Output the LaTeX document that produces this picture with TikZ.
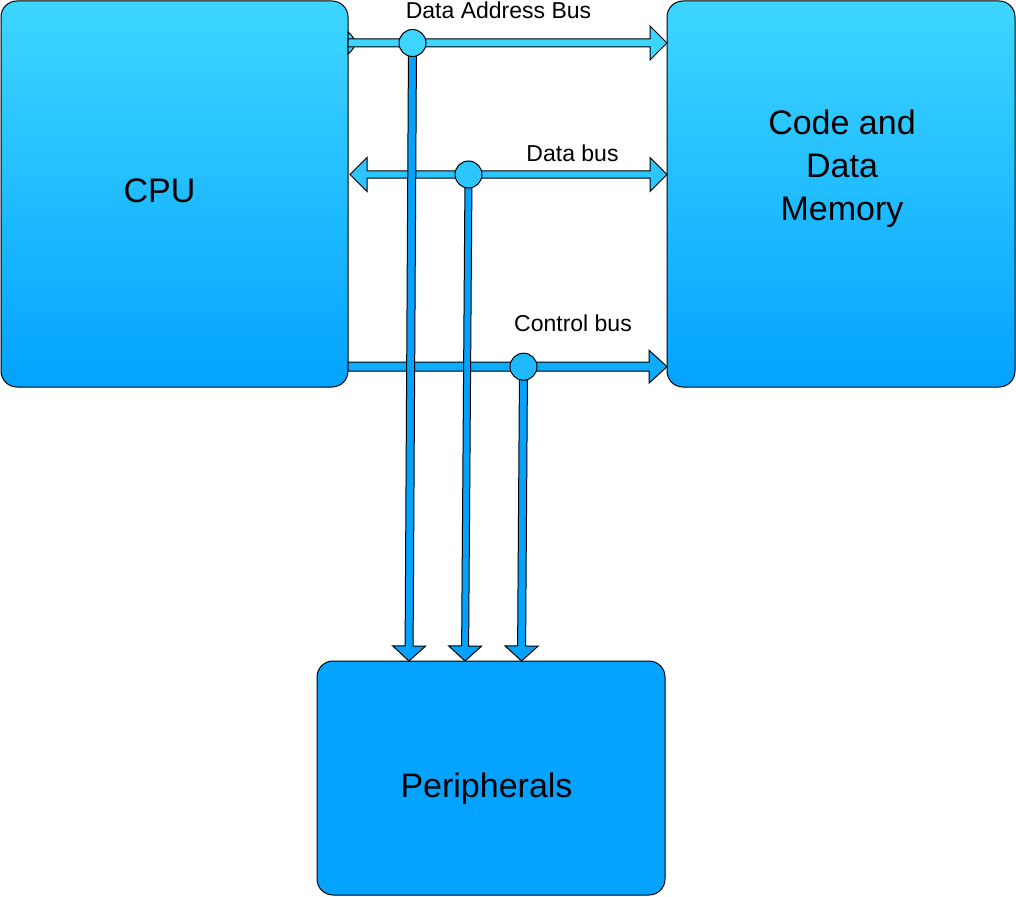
\documentclass[tikz,border=0pt]{standalone}
\usepackage{fontspec}
\setmainfont{Liberation Sans}
\usetikzlibrary{calc}
\definecolor{topc}{RGB}{62,214,255}
\definecolor{botc}{RGB}{3,163,255}
\definecolor{addrc}{RGB}{61,213,255}
\definecolor{datac}{RGB}{44,197,255}
\definecolor{ctrlc}{RGB}{14,172,255}
\definecolor{vertc}{RGB}{3,163,253}
\definecolor{j1c}{RGB}{61,213,255}
\definecolor{j2c}{RGB}{44,197,255}
\definecolor{j3c}{RGB}{31,185,255}
% single-headed flat arrow between two named coordinates
\newcommand\flexarrow[6]{%
  \path let \p1=($(#3)-(#2)$) in \pgfextra{%
    \pgfmathsetmacro\faang{atan2(\y1,\x1)}\global\let\faang\faang
    \pgfmathsetmacro\falen{veclen(\x1,\y1)}\global\let\falen\falen};
  \begin{scope}[shift={(#2)}, rotate=\faang]
    \draw[arrowline, fill=#1] (0,-#4) -- (\falen-#6,-#4) -- (\falen-#6,-#5)
      -- (\falen,0) -- (\falen-#6,#5) -- (\falen-#6,#4) -- (0,#4) -- cycle;
  \end{scope}}
% double-headed flat arrow
\newcommand\flexdarrow[6]{%
  \path let \p1=($(#3)-(#2)$) in \pgfextra{%
    \pgfmathsetmacro\faang{atan2(\y1,\x1)}\global\let\faang\faang
    \pgfmathsetmacro\falen{veclen(\x1,\y1)}\global\let\falen\falen};
  \begin{scope}[shift={(#2)}, rotate=\faang]
    \draw[arrowline, fill=#1] (0,0) -- (#6,-#5) -- (#6,-#4) -- (\falen-#6,-#4) -- (\falen-#6,-#5)
      -- (\falen,0) -- (\falen-#6,#5) -- (\falen-#6,#4) -- (#6,#4) -- (#6,#5) -- cycle;
  \end{scope}}
\begin{document}
\begin{tikzpicture}[x=1pt,y=-1pt,
  box/.style={draw=black, line width=1pt, rounded corners=16pt, inner sep=0pt, outer sep=0pt},
  arrowline/.style={draw=black, line width=1pt, line join=miter},
  junc/.style={circle, draw=black, line width=1pt, minimum size=27pt, inner sep=0pt, outer sep=0pt},
  big/.style={font=\fontsize{34}{43}\selectfont, inner sep=0pt, anchor=base, align=center},
  small/.style={font=\fontsize{23}{27}\selectfont, inner sep=0pt, anchor=base}]
\useasboundingbox (0,0) rectangle (1016,896);

% boxes
\node[box, top color=topc, bottom color=botc, minimum width=347pt, minimum height=386pt] (cpu) at (174.5,194) {};
\node[box, top color=topc, bottom color=botc, minimum width=348pt, minimum height=386pt] (mem) at (841,194) {};
\node[box, fill=botc, minimum width=348pt, minimum height=234pt] (per) at (491,778) {};

\node[big] (cpul) at (159.5,202.3) {CPU};
\node[big] (meml) at (842,220.7) {Code and\\Data\\Memory};
\node[big] (perl) at (486.5,797.3) {Peripherals};

% bus end points
\coordinate (as) at ($(cpu.north east)+(0,42)$);
\coordinate (ae) at ($(mem.north west)+(0,42)$);
\coordinate (ds) at ($(cpu.north east)+(2,173.5)$);
\coordinate (de) at ($(mem.north west)+(0,173.5)$);
\coordinate (cs) at ($(cpu.north east)+(0,365.7)$);
\coordinate (ce) at ($(mem.north west)+(0,365.7)$);
\coordinate (v1) at ($(per.north west)+(92,0)$);
\coordinate (v2) at ($(per.north west)+(148,0)$);
\coordinate (v3) at ($(per.north west)+(204.5,0)$);
\coordinate (j1p) at (412.5,43);
\coordinate (j2p) at (468.5,174.5);
\coordinate (j3p) at (523.5,366.7);

% small start cap of the address bus
\draw[arrowline, fill=addrc] ($(as)+(0,-11)$) .. controls ($(as)+(5,-7)$) and ($(as)+(7,-3)$) .. ($(as)+(7,0)$)
  .. controls ($(as)+(7,3)$) and ($(as)+(5,7)$) .. ($(as)+(0,11)$) -- cycle;

% horizontal buses
\flexarrow{addrc}{as}{ae}{4}{17}{17}
\flexdarrow{datac}{ds}{de}{3.5}{17}{17}
\flexarrow{ctrlc}{cs}{ce}{4.5}{16.5}{18}

% vertical buses
\flexarrow{vertc}{j1p}{v1}{4}{16.5}{15}
\flexarrow{vertc}{j2p}{v2}{3.5}{16.5}{15}
\flexarrow{vertc}{j3p}{v3}{4}{16.5}{15}

% junctions
\node[junc, fill=j1c] (j1) at (j1p) {};
\node[junc, fill=j2c] (j2) at (j2p) {};
\node[junc, fill=j3c] (j3) at (j3p) {};

% labels
\node[small] (la) at (498.5,18.3) {Data Address Bus};
\node[small] (ld) at (572.5,161.7) {Data bus};
\node[small] (lc) at (573,331.7) {Control bus};
\end{tikzpicture}
\end{document}
